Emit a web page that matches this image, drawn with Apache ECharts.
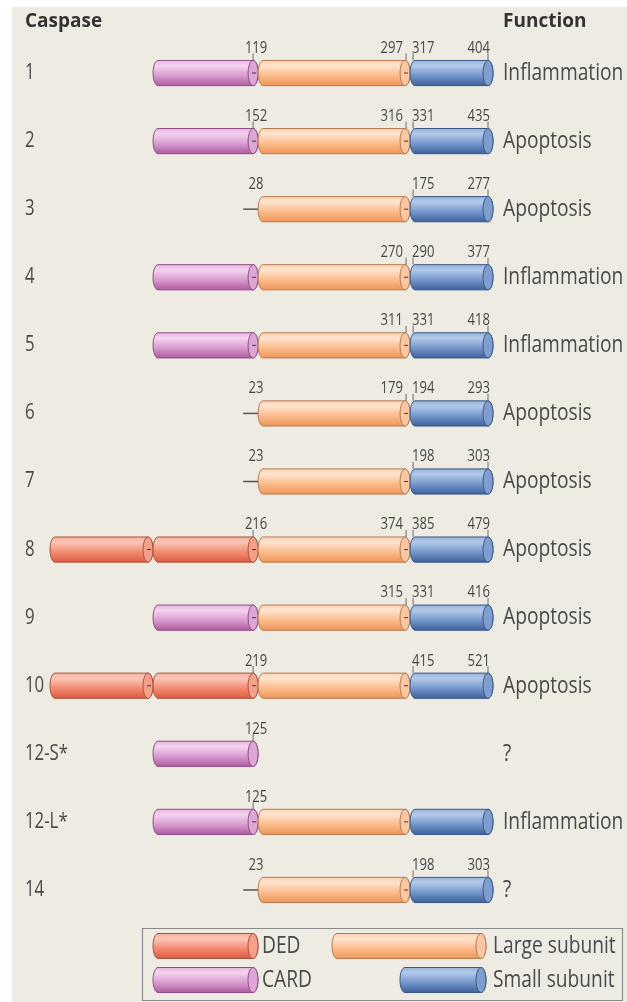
<!DOCTYPE html>
<html>
<head>
<meta charset="utf-8">
<script src="https://cdn.jsdelivr.net/npm/echarts@6/dist/echarts.min.js"></script>
<style>
  html, body { margin: 0; padding: 0; background: #ffffff; }
  #main { width: 627px; height: 1002px; }
</style>
</head>
<body>
<div id="main"></div>
<script>
// caspase rows, top to bottom
var caspases = ['1', '2', '3', '4', '5', '6', '7', '8', '9', '10', '12-S*', '12-L*', '14'];
// prodomain: CARD, DED (two DEDs) or short
var prodomains = ['CARD', 'CARD', 'short', 'CARD', 'CARD', 'short', 'short', 'DED', 'CARD', 'DED', 'CARD', 'CARD', 'short'];
var hasCatalytic = [true, true, true, true, true, true, true, true, true, true, false, true, true];
// residue numbers written above the bars (null = not shown)
var proEnd     = [119, 152, 28, null, null, 23, 23, 216, null, 219, 125, 125, 23];
var largeEnd   = [297, 316, null, 270, 311, 179, null, 374, 315, null, null, null, null];
var smallStart = [317, 331, 175, 290, 331, 194, 198, 385, 331, 415, null, null, 198];
var smallEnd   = [404, 435, 277, 377, 418, 293, 303, 479, 416, 521, null, null, 303];
var functions  = ['Inflammation', 'Apoptosis', 'Apoptosis', 'Inflammation', 'Inflammation', 'Apoptosis',
                  'Apoptosis', 'Apoptosis', 'Apoptosis', 'Apoptosis', '?', 'Inflammation', '?'];
var legendNames = ['DED', 'CARD', 'Large subunit', 'Small subunit'];

// schematic slots on the x axis (one DED = 1 unit)
var SLOT = { ded1: [0, 1], pro: [1, 2.02], large: [2.02, 3.495], small: [3.495, 4.3], stub: 1.875 };

var FONT = "'Open Sans', sans-serif";
var SQ = 0.8;           // horizontal squeeze of the lettering
var RX = 5;             // end-cap half width
var BG = '#eeebe3';
var TXT = '#4a4a4a';

var COLORS = {
    DED:   { stops: ['#f8b09b', '#fcc6b6', '#f28a70', '#dc5940'], cap: '#f4a08b', line: '#a4553f' },
    CARD:  { stops: ['#e6b2de', '#f4d3ef', '#d89bcf', '#ad589c'], cap: '#dca7d7', line: '#8f4d85' },
    LARGE: { stops: ['#fcd0ad', '#fee4cf', '#fbbb8b', '#ee9455'], cap: '#f9c7a1', line: '#b47b52' },
    SMALL: { stops: ['#93b0da', '#b3cae9', '#7396ca', '#3b5f9a'], cap: '#7f9ecd', line: '#3c5784' }
};

function grad(kind) {
    var s = COLORS[kind].stops;
    return new echarts.graphic.LinearGradient(0, 0, 0, 1, [
        { offset: 0, color: s[0] }, { offset: 0.22, color: s[1] },
        { offset: 0.6, color: s[2] }, { offset: 1, color: s[3] }
    ]);
}

function arcPts(cx, cy, rx, ry, a0, a1, n) {
    var p = [];
    for (var k = 0; k <= n; k++) {
        var a = a0 + (a1 - a0) * k / n;
        p.push([cx + rx * Math.cos(a), cy + ry * Math.sin(a)]);
    }
    return p;
}

// one cylinder: rounded body plus an elliptic cap on the right
function cylinder(x0, x1, cy, h, kind, joint) {
    var ry = h / 2, c = COLORS[kind];
    var body = arcPts(x0 + RX, cy, RX, ry, Math.PI / 2, 1.5 * Math.PI, 16)
        .concat(arcPts(x1 - RX, cy, RX, ry, -Math.PI / 2, Math.PI / 2, 16));
    var kids = [
        { type: 'polygon', shape: { points: body }, style: { fill: grad(kind), stroke: c.line, lineWidth: 1 } },
        { type: 'polygon', shape: { points: arcPts(x1 - RX, cy, RX, ry, 0, 2 * Math.PI, 32) },
          style: { fill: c.cap, stroke: c.line, lineWidth: 1 } }
    ];
    if (joint) {
        kids.push({ type: 'line', shape: { x1: x1 - RX - 1, y1: cy, x2: x1 - RX + 3, y2: cy },
                    style: { stroke: '#4a3535', lineWidth: 1 } });
    }
    return { type: 'group', children: kids };
}

function label(x, y, text, size, align, color, sq) {
    return {
        type: 'text', x: x, y: y, scaleX: sq || SQ,
        style: { text: text, x: 0, y: 0, fontSize: size, fontFamily: FONT, fill: color || TXT,
                 align: align, verticalAlign: 'middle' }
    };
}

function tick(x, y0, y1) {
    return { type: 'line', shape: { x1: x, y1: y0, x2: x, y2: y1 }, style: { stroke: '#6a6a6a', lineWidth: 1 } };
}

function num(x, y, v, align) {
    return label(x, y, String(v), 17, align, '#474747', 0.77);
}

function renderRow(params, api) {
    var i = params.dataIndex;
    var X = function (v) { return api.coord([v, i])[0]; };
    var cy = api.coord([0, i])[1];
    var h = api.size([0, 1])[1] * 0.37;
    var top = cy - h / 2, ly = cy - 25;
    var kids = [];
    var cat = hasCatalytic[i];

    if (prodomains[i] === 'DED') {
        kids.push(cylinder(X(SLOT.ded1[0]), X(SLOT.ded1[1]), cy, h, 'DED', true));
        kids.push(cylinder(X(SLOT.pro[0]), X(SLOT.pro[1]), cy, h, 'DED', cat));
    } else if (prodomains[i] === 'CARD') {
        kids.push(cylinder(X(SLOT.pro[0]), X(SLOT.pro[1]), cy, h, 'CARD', cat));
    } else {
        kids.push({ type: 'line', shape: { x1: X(SLOT.stub), y1: cy, x2: X(SLOT.large[0]) + 2, y2: cy },
                    style: { stroke: '#555', lineWidth: 1.5 } });
    }
    if (cat) {
        kids.push(cylinder(X(SLOT.large[0]), X(SLOT.large[1]), cy, h, 'LARGE', true));
        kids.push(cylinder(X(SLOT.small[0]), X(SLOT.small[1]), cy, h, 'SMALL', false));
    }

    var tp = X(SLOT.pro[1]) - RX;
    if (proEnd[i] != null) {
        if (prodomains[i] !== 'short') kids.push(tick(tp, top, top - 7));
        kids.push(num(tp + 3, ly, proEnd[i], 'center'));
    }
    var tl = X(SLOT.large[1]) - RX + 1;
    if (largeEnd[i] != null) {
        kids.push(tick(tl, top, top - 7));
        kids.push(num(tl - 3, ly, largeEnd[i], 'right'));
    }
    var ts = X(SLOT.small[0]) + 3;
    if (smallStart[i] != null) {
        kids.push(tick(ts, top, top - 7));
        kids.push(num(ts - 1, ly, smallStart[i], 'left'));
    }
    var te = X(SLOT.small[1]) - RX;
    if (smallEnd[i] != null) {
        kids.push(tick(te, top, top - 7));
        kids.push(num(te + 2, ly, smallEnd[i], 'right'));
    }

    // row name and function
    kids.push(label(X(0) - 25, cy, caspases[i], 21, 'left'));
    kids.push(label(X(SLOT.small[1]) + 10, cy, functions[i], 24, 'left'));

    return { type: 'group', children: kids };
}

// legend drawn as graphic (box + swatches)
var legendEls = [
    { type: 'rect', shape: { x: 142.5, y: 928.5, width: 480, height: 72 },
      style: { fill: 'none', stroke: '#8a8a8a', lineWidth: 1.2 } },
    cylinder(153, 258, 946, 25, 'DED', false),
    cylinder(153, 258, 980, 25, 'CARD', false),
    cylinder(332, 486, 946, 25, 'LARGE', false),
    cylinder(400, 486, 980, 25, 'SMALL', false),
    label(262, 946, legendNames[0], 24, 'left'),
    label(262, 980, legendNames[1], 24, 'left'),
    label(493, 946, legendNames[2], 24, 'left'),
    label(493, 980, legendNames[3], 24, 'left')
];

var myChart = echarts.init(document.getElementById('main'));

var option = {
    backgroundColor: '#ffffff',
    animation: false,
    title: [
        { text: 'Caspase', left: 25, top: 12, padding: 0,
          textStyle: { fontFamily: FONT, fontWeight: 'bold', fontSize: 19, color: '#333' } },
        { text: 'Function', left: 503, top: 12, padding: 0,
          textStyle: { fontFamily: FONT, fontWeight: 'bold', fontSize: 19, color: '#333' } }
    ],
    graphic: [
        { type: 'rect', z: -100, silent: true, shape: { x: 12, y: 7, width: 615, height: 995 }, style: { fill: BG } },
        { type: 'group', silent: true, children: legendEls }
    ],
    grid: { left: 50, right: 134, top: 39, bottom: 78 },
    xAxis: { type: 'value', min: 0, max: 4.3, show: false },
    yAxis: { type: 'category', inverse: true, data: caspases, show: false },
    series: [{
        type: 'custom',
        renderItem: renderRow,
        encode: { x: 0, y: 1 },
        data: caspases.map(function (c, i) { return [0, i]; })
    }]
};

myChart.setOption(option);
</script>
</body>
</html>
